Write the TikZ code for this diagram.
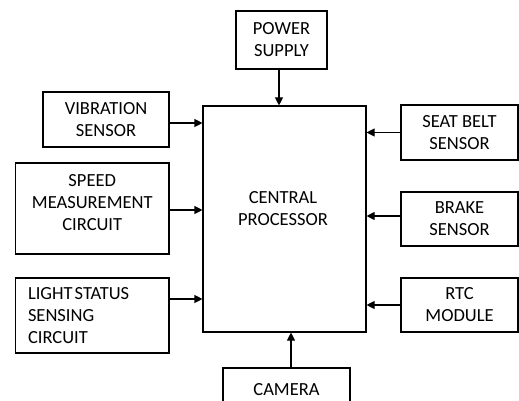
\documentclass[tikz,border=0pt]{standalone}
\usepackage{fontspec}
\setmainfont{Carlito}
\usetikzlibrary{arrows.meta}
\tikzset{
  blk/.style={draw, line width=1.1pt, inner sep=0pt, align=center,
    font=\fontsize{18.5}{22}\selectfont},
  arr/.style={line width=1.1pt, -{Triangle[length=8pt,width=8pt]}},
  txt/.style={align=center, font=\fontsize{18.5}{22}\selectfont}
}
\begin{document}
\begin{tikzpicture}[x=1pt,y=-1pt]
\useasboundingbox (0,0) rectangle (519,401);
\clip (0,0) rectangle (519,401);
% central
\node[blk, minimum width=163pt, minimum height=226pt,
  label={[txt, xshift=-1.5pt, yshift=10pt]center:CENTRAL\\PROCESSOR}] (cpu) at (284.5,219) {};
% top
\node[blk, minimum width=91pt, minimum height=58pt] (pwr) at (281.5,40) {POWER\\SUPPLY};
% left
\node[blk, minimum width=126pt, minimum height=55pt] (vib) at (106,119.5) {VIBRATION\\SENSOR};
\node[blk, minimum width=153.5pt, minimum height=91pt,
  label={[txt, yshift=5.5pt]center:SPEED\\MEASUREMENT\\CIRCUIT}] (spd) at (92.25,208.5) {};
\node[blk, minimum height=75pt, text width=128.5pt, inner xsep=12.5pt, align=left] (lgt) at (92.25,315.5) {LIGHT\kern2pt STATUS\\SENSING\\CIRCUIT};
% right
\node[blk, minimum width=117pt, minimum height=55pt] (seat) at (459.5,132.5) {SEAT BELT\\SENSOR};
\node[blk, minimum width=117pt, minimum height=54pt] (brk) at (459.5,219) {BRAKE\\SENSOR};
\node[blk, minimum width=117pt, minimum height=54pt] (rtc) at (459.5,305) {RTC\\MODULE};
% bottom
\node[blk, minimum width=127pt, minimum height=44pt] (cam) at (286.5,390) {CAMERA};
% arrows
\draw[arr] ([xshift=-2.5pt]pwr.south) -- ([xshift=-2.5pt]pwr.south |- cpu.north);
\draw[arr] ([yshift=-3.5pt]vib.east) -- ([yshift=-3.5pt]vib.east -| cpu.west);
\draw[arr] ([yshift=-1.5pt]spd.east) -- ([yshift=-1.5pt]spd.east -| cpu.west);
\draw[arr] ([yshift=16.5pt]lgt.east) -- ([yshift=16.5pt]lgt.east -| cpu.west);
\draw[arr] (seat.west) -- (seat.west -| cpu.east);
\draw[arr] ([yshift=3pt]brk.west) -- ([yshift=3pt]brk.west -| cpu.east);
\draw[arr] (rtc.west) -- (rtc.west -| cpu.east);
\draw[arr] ([xshift=4.5pt]cam.north) -- ([xshift=4.5pt]cam.north |- cpu.south);
\end{tikzpicture}
\end{document}
